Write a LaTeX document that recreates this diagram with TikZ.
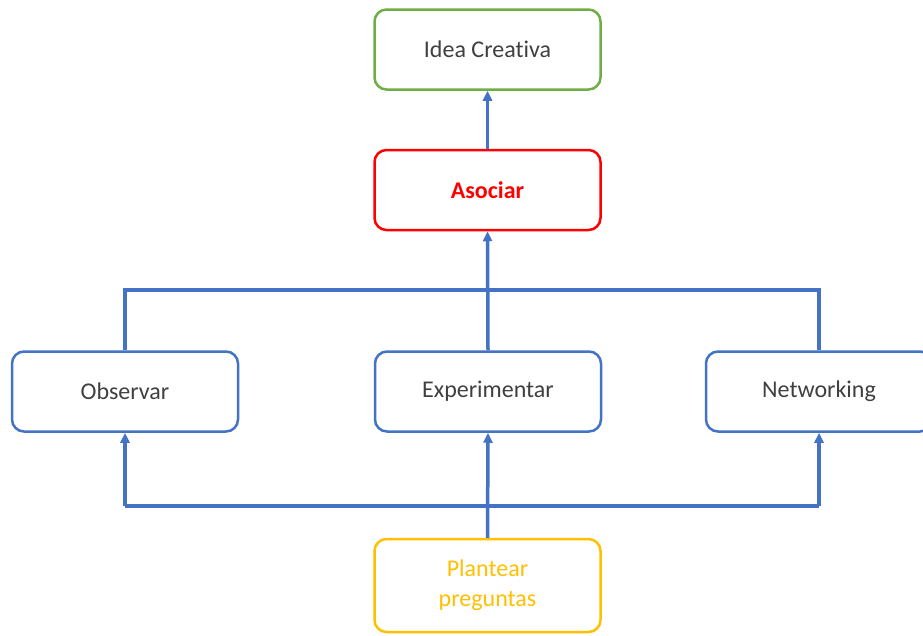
\documentclass[tikz,border=0pt]{standalone}
\usepackage{fontspec}
\setmainfont[Ligatures=NoCommon]{Carlito}
\usetikzlibrary{arrows.meta}
\definecolor{lblue}{HTML}{4472C4}
\definecolor{lgreen}{HTML}{70AD47}
\definecolor{lred}{HTML}{FF0000}
\definecolor{lyellow}{HTML}{FFC000}
\definecolor{ltext}{HTML}{404040}
\tikzset{
  box/.style={draw, line width=2.5pt, rounded corners=12pt, fill=white,
    minimum width=226pt, minimum height=80pt, align=center,
    font=\fontsize{24}{30}\selectfont, text=ltext},
  conn/.style={draw=lblue, line width=3.5pt},
  arr/.style={conn, -{Triangle[length=10pt,width=9pt]}},
}
\begin{document}
\begin{tikzpicture}[x=1pt,y=-1pt]
\useasboundingbox (0,0) rectangle (923,635);
\clip (0,0) rectangle (923,635);
\fill[white] (0,0) rectangle (923,635);
\node[box, draw=lgreen] (idea) at (487.5,49.5) {Idea Creativa};
\node[box, draw=lred, text=lred, font=\fontsize{24}{30}\selectfont\bfseries] (asoc) at (487.5,190) {Asociar};
\node[box, draw=lblue] (obs) at (125,391.5) {Observar};
\node[box, draw=lblue] (exp) at (488,391.5) {Experimentar};
\node[box, draw=lblue] (net) at (819,391.5) {Networking};
\node[box, draw=lyellow, text=lyellow, minimum height=93pt] (plan) at (487.5,585.5) {Plantear\\preguntas};
\coordinate (top) at (0,290);
\coordinate (bot) at (0,506);
\draw[conn] (obs.north) -- (obs.north |- top) -- (net.north |- top) -- (net.north);
\draw[arr] (exp.north) -- (asoc.south);
\draw[arr] (asoc.north) -- (idea.south);
\draw[conn] (obs.south |- bot) -- (net.south |- bot);
\draw[arr] (plan.north) -- (exp.south);
\draw[arr] (obs.south |- bot) -- (obs.south);
\draw[arr] (net.south |- bot) -- (net.south);
\end{tikzpicture}
\end{document}
